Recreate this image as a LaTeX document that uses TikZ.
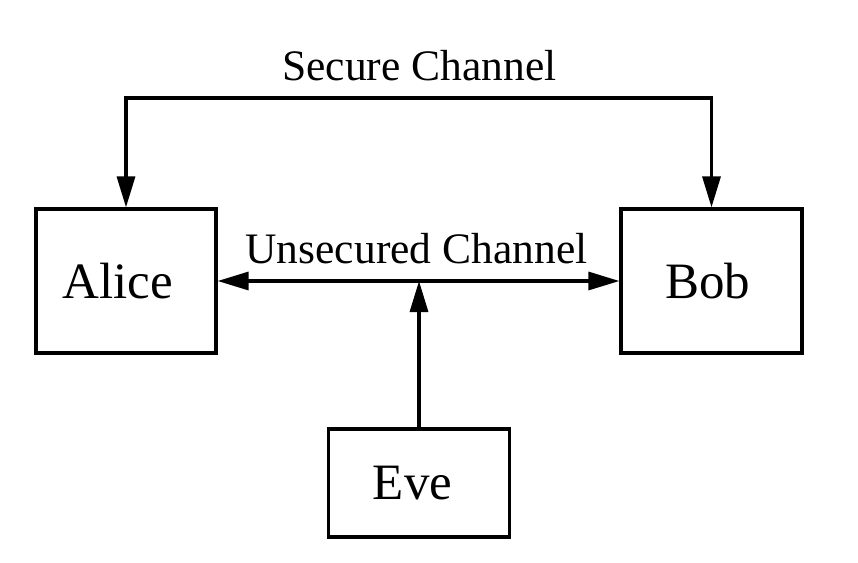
\documentclass[tikz,border=0pt]{standalone}
\usepackage{fontspec}
\setmainfont{Liberation Serif}
\usetikzlibrary{arrows.meta}
\begin{document}
\begin{tikzpicture}[x=1pt,y=-1pt,
  party/.style={draw,line width=3.2pt,inner sep=0pt,font=\fontsize{51}{60}\selectfont},
  chan/.style={font=\fontsize{43.5}{52}\selectfont,inner sep=0pt,anchor=base},
  arr/.style={line width=3.2pt,-{Triangle[length=31pt,width=18pt]}},
  darr/.style={line width=3.2pt,{Triangle[length=31pt,width=18pt]}-{Triangle[length=31pt,width=18pt]}}]
\useasboundingbox (0,0) rectangle (858,562);
\node[party,minimum width=180pt,minimum height=144pt] (alice) at (126,281) {Alice\hspace*{16pt}};
\node[party,minimum width=181pt,minimum height=144pt] (bob) at (711.5,281) {Bob\hspace*{8pt}};
\node[party,minimum width=181pt,minimum height=108pt] (eve) at (419,483) {Eve\hspace*{13pt}};
\coordinate (sy) at (0,98);
\draw[darr,line join=miter] (alice.north) -- (alice.north |- sy) -- (bob.north |- sy) -- (bob.north);
\node[chan] (sc) at (419.5,80) {Secure Channel};
\draw[darr] (alice.east) -- (bob.west);
\node[chan] (uc) at (416.5,263) {Unsecured Channel};
\draw[arr] (eve.north) -- (eve.north |- alice.east);
\end{tikzpicture}
\end{document}
